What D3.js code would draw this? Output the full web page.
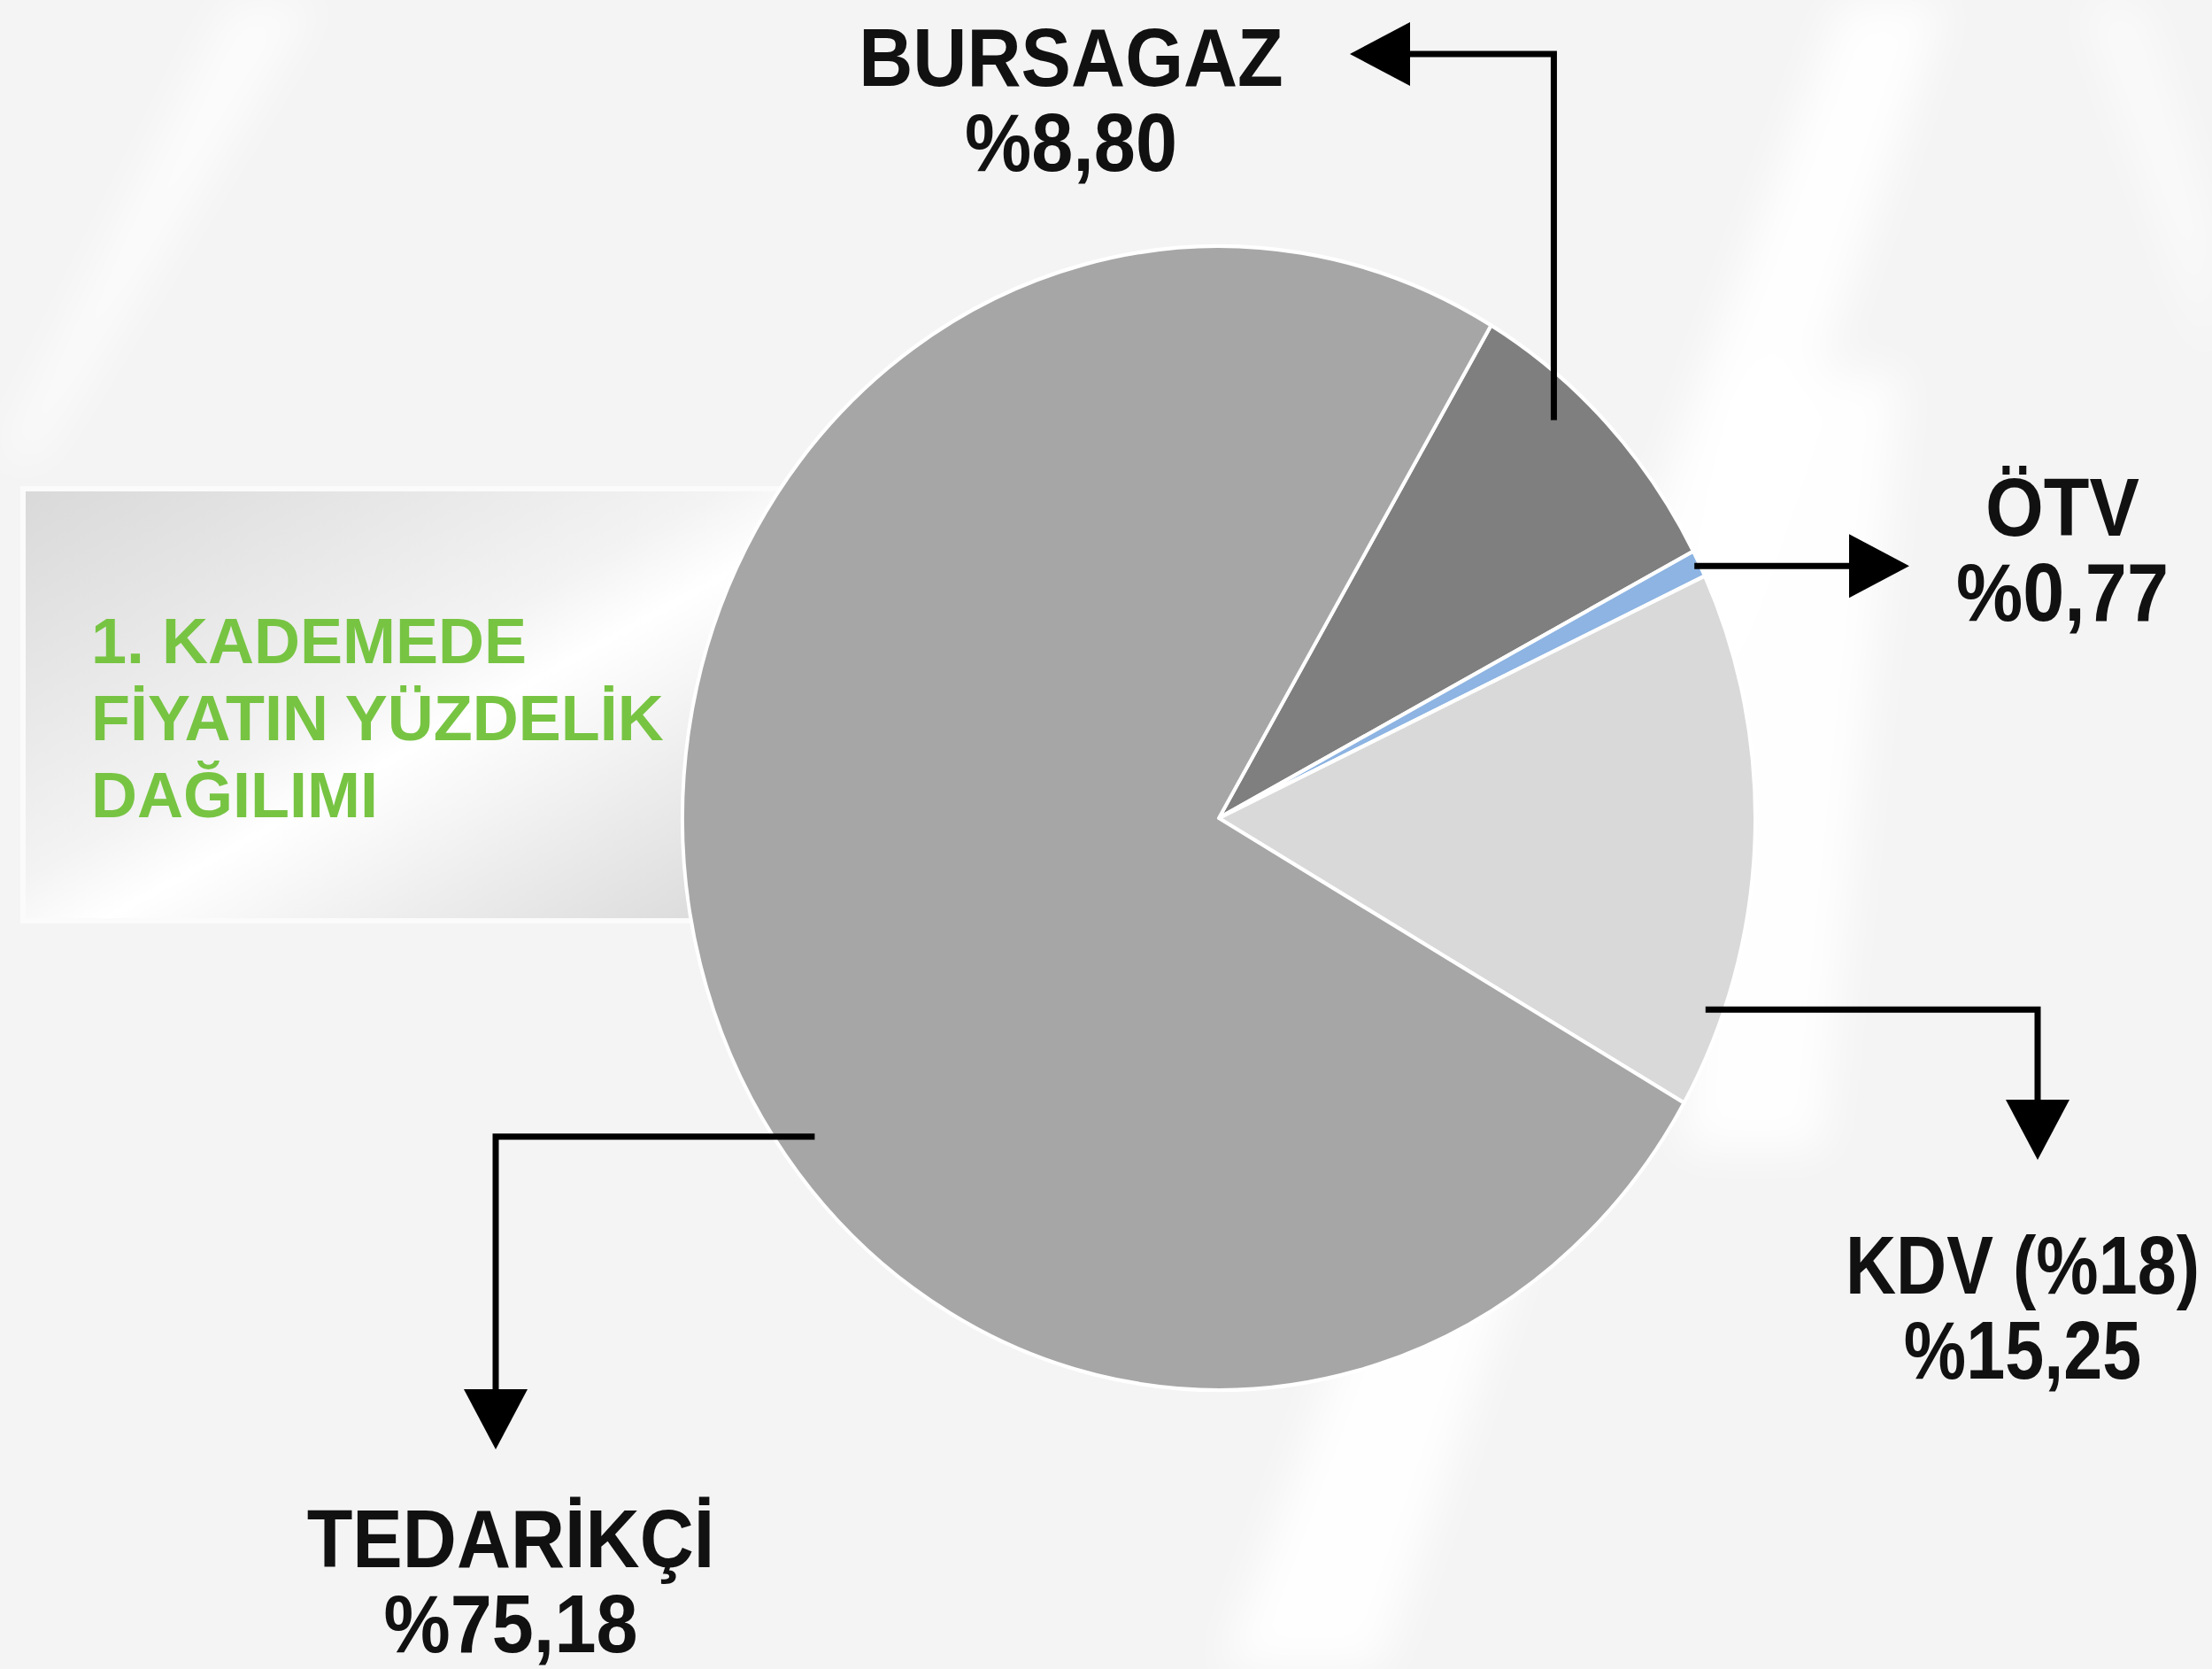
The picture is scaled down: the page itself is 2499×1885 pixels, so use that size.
<!DOCTYPE html>
<html><head><meta charset="utf-8">
<script src="https://cdn.jsdelivr.net/npm/d3@7"></script>
<style>html,body{margin:0;padding:0;background:#f4f4f4;overflow:hidden}</style>
</head><body>
<svg id="chart" width="2499" height="1885"></svg>
<script>
// ---- data ----
const categories = ["BURSAGAZ", "ÖTV", "KDV", "TEDARİKÇİ"];
const values = [8.80, 0.77, 15.25, 75.18];
const labelNames = ["BURSAGAZ", "ÖTV", "KDV (%18)", "TEDARİKÇİ"];
const valueLabels = ["%8,80", "%0,77", "%15,25", "%75,18"];
const titleLines = ["1. KADEMEDE", "FİYATIN YÜZDELİK", "DAĞILIMI"];
const colors = ["#7f7f7f", "#8db4e2", "#d9d9d9", "#a6a6a6"];

const W = 2499, H = 1885;
const svg = d3.select("#chart");
const defs = svg.append("defs");

// background
svg.append("rect").attr("width", W).attr("height", H).attr("fill", "#f4f4f4");
const blur = defs.append("filter").attr("id", "blur").attr("x", "-20%").attr("y", "-20%").attr("width", "140%").attr("height", "140%");
blur.append("feGaussianBlur").attr("stdDeviation", 25);
const sw = svg.append("g").attr("filter", "url(#blur)");
sw.append("path").attr("d", "M2080,0 L2200,0 L1560,1885 L1380,1885 Z").attr("fill", "#ffffff").attr("opacity", 0.9);
sw.append("path").attr("d", "M1950,420 L2150,420 L2060,1300 L1900,1300 Z").attr("fill", "#ffffff").attr("opacity", 0.9);
sw.append("path").attr("d", "M260,0 L360,0 L40,520 L0,520 Z").attr("fill", "#ffffff").attr("opacity", 0.7);
sw.append("path").attr("d", "M2350,0 L2420,0 L2499,260 L2499,420 Z").attr("fill", "#ffffff").attr("opacity", 0.6);

// title box
const boxGrad = defs.append("linearGradient").attr("id", "boxGrad")
  .attr("x1", "0").attr("y1", "0").attr("x2", "1").attr("y2", "1");
boxGrad.append("stop").attr("offset", "0").attr("stop-color", "#d9d9d9");
boxGrad.append("stop").attr("offset", "0.45").attr("stop-color", "#f3f3f3");
boxGrad.append("stop").attr("offset", "0.55").attr("stop-color", "#ffffff");
boxGrad.append("stop").attr("offset", "0.75").attr("stop-color", "#ececec");
boxGrad.append("stop").attr("offset", "1").attr("stop-color", "#d6d6d6");
svg.append("rect").attr("x", 26).attr("y", 552).attr("width", 880).attr("height", 488)
  .attr("fill", "url(#boxGrad)").attr("stroke", "#fbfbfb").attr("stroke-width", 6);

const title = svg.append("text")
  .attr("font-family", "'Liberation Sans', Arial, sans-serif")
  .attr("font-weight", "bold").attr("font-size", 72).attr("fill", "#77c443");
titleLines.forEach((t, i) => {
  title.append("tspan").attr("x", 103).attr("y", 749 + i * 87).text(t);
});

// pie
const cx = 1377, cy = 924, R = 606, sy = 646 / 606;
const start = 30.5 * Math.PI / 180;
const pie = d3.pie().sort(null).value(d => d).startAngle(start).endAngle(start + 2 * Math.PI);
const arcs = pie(values);
const arc = d3.arc().innerRadius(0).outerRadius(R);
const pg = svg.append("g").attr("transform", `translate(${cx},${cy}) scale(1,${sy})`);
pg.selectAll("path").data(arcs).join("path")
  .attr("d", arc).attr("fill", (d, i) => colors[i])
  .attr("stroke", "#ffffff").attr("stroke-width", 4).attr("stroke-linejoin", "round");

// point on slice in page coords
function slicePoint(i, frac, rf) {
  const a = arcs[i].startAngle + (arcs[i].endAngle - arcs[i].startAngle) * frac;
  return [cx + R * rf * Math.sin(a), cy - R * rf * Math.cos(a) * sy];
}

const lw = 7, ah = 68, aw = 36;
const lg = svg.append("g");
function arrowHead(tip, dir) {
  const [x, y] = tip;
  let pts;
  if (dir === "left") pts = [[x, y], [x + ah, y - aw], [x + ah, y + aw]];
  else if (dir === "right") pts = [[x, y], [x - ah, y - aw], [x - ah, y + aw]];
  else pts = [[x, y], [x - aw, y - ah], [x + aw, y - ah]];
  lg.append("path").attr("d", d3.line()(pts) + "Z").attr("fill", "#000");
}
function poly(pts) {
  lg.append("path").attr("d", d3.line()(pts)).attr("fill", "none")
    .attr("stroke", "#000").attr("stroke-width", lw).attr("stroke-linejoin", "miter");
}
// BURSAGAZ: up then left
{
  const p = slicePoint(0, 0.36, 0.935);
  const yTop = 61, tipX = 1525;
  poly([p, [p[0], yTop], [tipX + ah - 2, yTop]]);
  arrowHead([tipX, yTop], "left");
}
// ÖTV: right
{
  const p = slicePoint(1, 0.5, 0.99);
  const tipX = 2157;
  poly([p, [tipX - ah + 2, p[1]]]);
  arrowHead([tipX, p[1]], "right");
}
// KDV: right then down
{
  const p = slicePoint(2, 0.825, 0.967);
  const xR = 2302, tipY = 1310;
  poly([p, [xR, p[1]], [xR, tipY - ah + 2]]);
  arrowHead([xR, tipY], "down");
}
// TEDARİKÇİ: left then down
{
  const p = slicePoint(3, 0.42, 0.937);
  const xL = 560, tipY = 1637;
  poly([p, [xL, p[1]], [xL, tipY - ah + 2]]);
  arrowHead([xL, tipY], "down");
}

// labels
const labelPos = [[1210, 97], [2330, 605], [2285, 1461], [577, 1770]];
const labelScale = [0.92, 0.92, 0.86, 0.92];
const lineGap = 96;
labelPos.forEach(([x, y], i) => {
  [labelNames[i], valueLabels[i]].forEach((t, j) => {
    svg.append("text")
      .attr("transform", `translate(${x},${y + j * lineGap}) scale(${labelScale[i]},1)`)
      .attr("text-anchor", "middle")
      .attr("font-family", "'Liberation Sans', Arial, sans-serif")
      .attr("font-weight", "bold").attr("font-size", 92).attr("fill", "#111")
      .text(t);
  });
});
</script>
</body></html>
